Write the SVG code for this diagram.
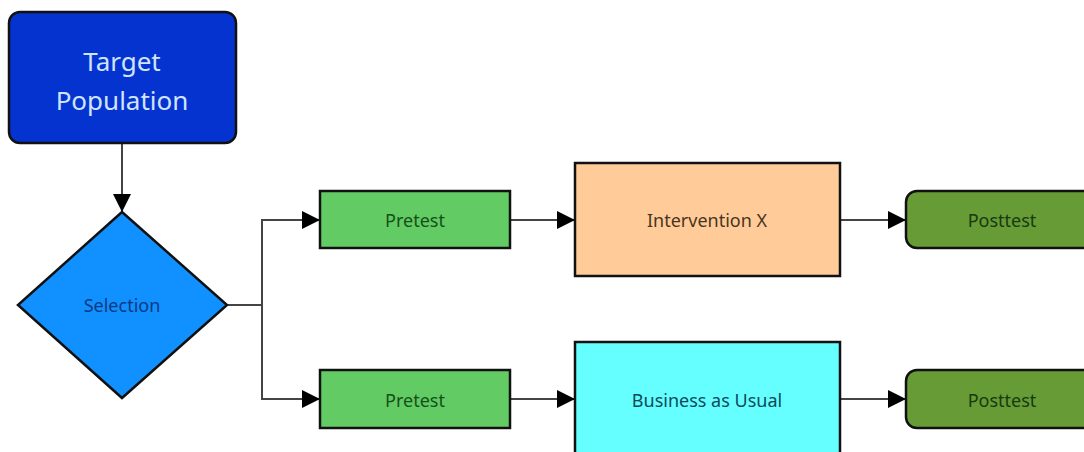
<svg xmlns="http://www.w3.org/2000/svg" width="1084" height="452" viewBox="0 0 1084 452">
  <style>
    .box { stroke: #111; stroke-width: 2.5; }
    .lbl { font-family: "Noto Sans", "Open Sans", "DejaVu Sans", sans-serif; text-anchor: middle; dominant-baseline: central; }
    .edge { fill: none; stroke: #444; stroke-width: 2; }
  </style>
  <defs>
    <marker id="arrow" viewBox="0 0 10 10" refX="10" refY="5" markerWidth="10" markerHeight="10" markerUnits="userSpaceOnUse" orient="auto">
      <path d="M0,0 L10,5 L0,10 z" fill="#000"/>
    </marker>
    <marker id="arrowBig" viewBox="0 0 18 18" refX="18" refY="9" markerWidth="18" markerHeight="18" markerUnits="userSpaceOnUse" orient="auto">
      <path d="M0,0 L18,9 L0,18 z" fill="#000"/>
    </marker>
  </defs>
  <rect width="1084" height="452" fill="#fff"/>

  <g id="connectors">
    <path class="edge" d="M122,143 V212" marker-end="url(#arrowBig)"/>
    <path class="edge" d="M227,305 H262 V220 H320" marker-end="url(#arrowBig)"/>
    <path class="edge" d="M262,305 V399 H320" marker-end="url(#arrowBig)"/>
    <path class="edge" d="M510,220 H575" marker-end="url(#arrowBig)"/>
    <path class="edge" d="M840,220 H906" marker-end="url(#arrowBig)"/>
    <path class="edge" d="M510,399 H575" marker-end="url(#arrowBig)"/>
    <path class="edge" d="M840,399 H906" marker-end="url(#arrowBig)"/>
  </g>

  <g id="target-population">
    <rect class="box" x="9" y="12" width="227" height="131" rx="11" fill="#0533d0"/>
    <text class="lbl" x="122" y="61" font-size="26" fill="#cfe4ff">Target</text>
    <text class="lbl" x="122" y="100" font-size="26" fill="#cfe4ff">Population</text>
  </g>

  <g id="selection">
    <polygon class="box" points="122,212 227,305 122,398 18,305" fill="#1190ff"/>
    <text class="lbl" x="122" y="305" font-size="18" fill="#0b3a80">Selection</text>
  </g>

  <g id="pretest-1">
    <rect class="box" x="320" y="191" width="190" height="57" fill="#63cb63"/>
    <text class="lbl" x="415" y="220" font-size="18" fill="#14501a">Pretest</text>
  </g>

  <g id="intervention-x">
    <rect class="box" x="575" y="163" width="265" height="113" fill="#ffcc99"/>
    <text class="lbl" x="707" y="220" font-size="18" fill="#4a3420">Intervention X</text>
  </g>

  <g id="posttest-1">
    <rect class="box" x="906" y="191" width="200" height="57" rx="11" fill="#679b35"/>
    <text class="lbl" x="1002" y="220" font-size="18" fill="#163a10">Posttest</text>
  </g>

  <g id="pretest-2">
    <rect class="box" x="320" y="370" width="190" height="58" fill="#63cb63"/>
    <text class="lbl" x="415" y="400" font-size="18" fill="#14501a">Pretest</text>
  </g>

  <g id="business-as-usual">
    <rect class="box" x="575" y="342" width="265" height="130" fill="#66ffff"/>
    <text class="lbl" x="707" y="400" font-size="18" fill="#0d4a5a">Business as Usual</text>
  </g>

  <g id="posttest-2">
    <rect class="box" x="906" y="370" width="200" height="58" rx="11" fill="#679b35"/>
    <text class="lbl" x="1002" y="400" font-size="18" fill="#163a10">Posttest</text>
  </g>
</svg>
